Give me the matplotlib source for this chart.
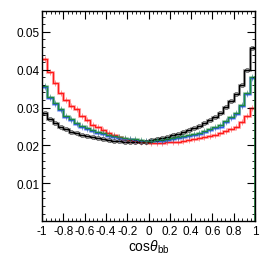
import matplotlib.pyplot as plt
import numpy as np

plt.rcParams['font.family'] = ['Liberation Sans', 'DejaVu Sans']
plt.rcParams['mathtext.fontset'] = 'custom'
plt.rcParams['mathtext.rm'] = 'Liberation Sans'
plt.rcParams['mathtext.it'] = 'Liberation Sans:italic'

# 40 bins in cos(theta_bb)
edges = np.linspace(-1, 1, 41)

red_left = [0.0429, 0.0393, 0.0365, 0.0338, 0.0319, 0.0303, 0.0296, 0.0278, 0.0268, 0.0255,
            0.0248, 0.0240, 0.0233, 0.0227, 0.0222, 0.0218, 0.0215, 0.0212, 0.0210, 0.0208]
red_right = [0.0206, 0.0206, 0.0207, 0.0208, 0.0208, 0.0210, 0.0213, 0.0215, 0.0217, 0.0220,
             0.0222, 0.0225, 0.0228, 0.0232, 0.0237, 0.0243, 0.0250, 0.0262, 0.0277, 0.0300]
red = red_left + red_right

green_left = [0.0357, 0.0329, 0.0313, 0.0297, 0.0277, 0.0271, 0.0260, 0.0251, 0.0247, 0.0241,
              0.0235, 0.0232, 0.0228, 0.0224, 0.0222, 0.0220, 0.0218, 0.0217, 0.0215, 0.0213]
green_right = [0.0213, 0.0214, 0.0215, 0.0217, 0.0219, 0.0221, 0.0224, 0.0227, 0.0231, 0.0234,
               0.0238, 0.0243, 0.0249, 0.0253, 0.0264, 0.0276, 0.0286, 0.0308, 0.0339, 0.0381]
green = green_left + green_right

blue_left = [0.0354, 0.0326, 0.0310, 0.0294, 0.0275, 0.0268, 0.0257, 0.0248, 0.0244, 0.0238,
             0.0233, 0.0229, 0.0225, 0.0222, 0.0220, 0.0218, 0.0216, 0.0215, 0.0213, 0.0211]
blue_right = [0.0211, 0.0212, 0.0213, 0.0215, 0.0217, 0.0219, 0.0222, 0.0225, 0.0228, 0.0231,
              0.0235, 0.0240, 0.0246, 0.0250, 0.0261, 0.0273, 0.0283, 0.0305, 0.0336, 0.0378]
blue = blue_left + blue_right

black_left = [0.0286, 0.0269, 0.0258, 0.0249, 0.0243, 0.0236, 0.0233, 0.0228, 0.0225, 0.0222,
              0.0220, 0.0216, 0.0215, 0.0213, 0.0212, 0.0210, 0.0210, 0.0209, 0.0209, 0.0209]
black_right = [0.0214, 0.0217, 0.0220, 0.0223, 0.0227, 0.0231, 0.0235, 0.0240, 0.0245, 0.0251,
               0.0258, 0.0267, 0.0276, 0.0285, 0.0302, 0.0317, 0.0335, 0.0361, 0.0399, 0.0458]
black = black_left + black_right

centers = 0.5 * (edges[:-1] + edges[1:])

fig = plt.figure(figsize=(2.66, 2.55), dpi=100)
ax = fig.add_axes([0.158, 0.129, 0.801, 0.822])

series = [(red, '#ff1a1a', '+'), (blue, '#3355ff', '+'), (black, '#000000', 'o'), (green, '#1b8a3a', '+')]
for vals, col, mk in series:
    ax.stairs(vals, edges, color=col, lw=2.2, alpha=0.3, baseline=None)
    ax.stairs(vals, edges, color=col, lw=1.0, baseline=None)
    if mk == 'o':
        ax.plot(centers, vals, ls='none', marker='o', ms=3, mfc='none', mec=col, mew=0.6, alpha=0.6)
    else:
        ax.plot(centers, vals, ls='none', marker='+', ms=4, mec=col, mew=0.6, alpha=0.5)

# green vertical edge on the right
ax.plot([1, 1], [0, green[-1]], color='#1b8a3a', lw=1.2)

ax.set_xlim(-1, 1)
ax.set_ylim(0, 0.0554)
ax.set_xticks(np.arange(-1, 1.01, 0.2))
ax.set_xticklabels(['-1', '-0.8', '-0.6', '-0.4', '-0.2', '0', '0.2', '0.4', '0.6', '0.8', '1'])
ax.set_xticks(np.arange(-1, 1.01, 0.04), minor=True)
ax.set_yticks([0.01, 0.02, 0.03, 0.04, 0.05])
ax.set_yticklabels(['0.01', '0.02', '0.03', '0.04', '0.05'])
ax.set_yticks(np.arange(0, 0.0554, 0.002), minor=True)
ax.tick_params(which='both', direction='in', top=True, right=True, labelsize=8.5, pad=2)
ax.tick_params(which='major', length=6, width=0.8)
ax.tick_params(which='minor', length=2.5, width=0.6)
ax.tick_params(axis='x', which='major', pad=3)
for s in ax.spines.values():
    s.set_linewidth(1.0)

ax.set_xlabel(r'cos$\theta_{\rm bb}$', fontsize=10, labelpad=0)

plt.savefig('out.png', dpi=100)
